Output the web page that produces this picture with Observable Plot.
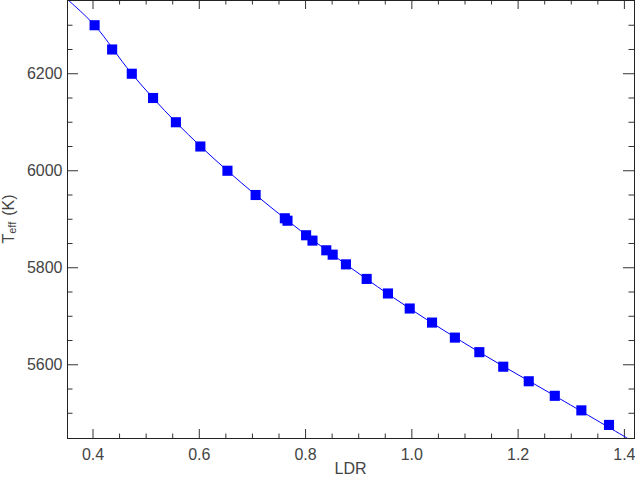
<!DOCTYPE html>
<html>
<head>
<meta charset="utf-8">
<script src="https://cdn.jsdelivr.net/npm/d3@7"></script>
<script src="https://cdn.jsdelivr.net/npm/@observablehq/plot@0.6"></script>
<style>
  html, body { margin: 0; padding: 0; background: #fff; }
  #chart svg { display: block; }
</style>
</head>
<body>
<div id="chart"></div>
<script>
// Data
const ldr  = [0.403, 0.436, 0.473, 0.513, 0.556, 0.602, 0.653, 0.706, 0.761, 0.766, 0.801, 0.813, 0.839, 0.851, 0.876, 0.915, 0.955, 0.996, 1.038, 1.081, 1.127, 1.172, 1.220, 1.269, 1.319, 1.371];
const teff = [6300, 6250, 6200, 6150, 6100, 6050, 6000, 5950, 5902, 5897, 5867, 5856, 5836, 5827, 5807, 5777, 5747, 5716, 5687, 5656, 5626, 5596, 5566, 5536, 5506, 5476];

// Fitted calibration curve (extends beyond the frame, clipped)
const fitLDR  = [0.354, 0.403, 0.473, 0.556, 0.653, 0.763, 0.876, 0.996, 1.127, 1.269, 1.405];
const fitTeff = [6351, 6300, 6200, 6100, 6000, 5900, 5807, 5716, 5626, 5536, 5449];

// Axis ticks
const xMajor = [0.4, 0.6, 0.8, 1.0, 1.2, 1.4];
const xMinor = [0.45, 0.5, 0.55, 0.65, 0.7, 0.75, 0.85, 0.9, 0.95, 1.05, 1.1, 1.15, 1.25, 1.3, 1.35];
const yMajor = [5600, 5800, 6000, 6200];
const yMinor = [5500, 5550, 5650, 5700, 5750, 5850, 5900, 5950, 6050, 6100, 6150, 6250, 6300];

const points = ldr.map((x, i) => ({x, y: teff[i]}));
const fit = fitLDR.map((x, i) => ({x, y: fitTeff[i]}));

const W = 635, H = 478, mL = 67, mR = 1, mT = 0, mB = 40;
const pW = W - mL - mR, pH = H - mT - mB;
const tickC = "#333";

const chart = Plot.plot({
  width: W, height: H,
  marginLeft: mL, marginRight: mR, marginTop: mT, marginBottom: mB,
  style: {fontFamily: "'Liberation Sans', Arial, sans-serif", fontSize: "16px", color: "#444", background: "#fff"},
  x: {domain: [0.352, 1.419]},
  y: {domain: [5448, 6351]},
  marks: [
    Plot.axisX(xMajor, {tickSize: 0, tickPadding: 10, tickFormat: d3.format(".1f"), label: null}),
    Plot.axisY(yMajor, {tickSize: 0, tickPadding: 5, tickFormat: d3.format("d"), label: null}),
    // inward ticks on all four sides
    Plot.tickX(xMajor, {x: d => d, insetTop: pH - 9, stroke: tickC}),
    Plot.tickX(xMajor, {x: d => d, insetBottom: pH - 9, stroke: tickC}),
    Plot.tickX(xMinor, {x: d => d, insetTop: pH - 4.5, stroke: tickC}),
    Plot.tickX(xMinor, {x: d => d, insetBottom: pH - 4.5, stroke: tickC}),
    Plot.tickY(yMajor, {y: d => d, insetRight: pW - 11, stroke: tickC}),
    Plot.tickY(yMajor, {y: d => d, insetLeft: pW - 11, stroke: tickC}),
    Plot.tickY(yMinor, {y: d => d, insetRight: pW - 5.5, stroke: tickC}),
    Plot.tickY(yMinor, {y: d => d, insetLeft: pW - 5.5, stroke: tickC}),
    Plot.line(fit, {x: "x", y: "y", stroke: "#0000ff", strokeWidth: 1, clip: true, curve: "catmull-rom"}),
    Plot.dot(points, {x: "x", y: "y", symbol: "square", r: 5.7, fill: "#0000ff", stroke: "none"}),
    Plot.frame({stroke: "#222"})
  ]
});

const svg = d3.select(chart);
svg.append("text")
  .attr("x", mL + pW / 2).attr("y", 474)
  .attr("text-anchor", "middle")
  .attr("fill", "#444").attr("font-size", 16)
  .text("LDR");

const yl = svg.append("text")
  .attr("transform", `translate(14,${mT + pH / 2}) rotate(-90)`)
  .attr("text-anchor", "middle")
  .attr("fill", "#444").attr("font-size", 16);
yl.append("tspan").text("T");
yl.append("tspan").attr("font-size", 11).attr("dy", 2).text("eff");
yl.append("tspan").attr("dy", -2).attr("dx", 6).text("(K)");

document.getElementById("chart").appendChild(chart);
</script>
</body>
</html>
